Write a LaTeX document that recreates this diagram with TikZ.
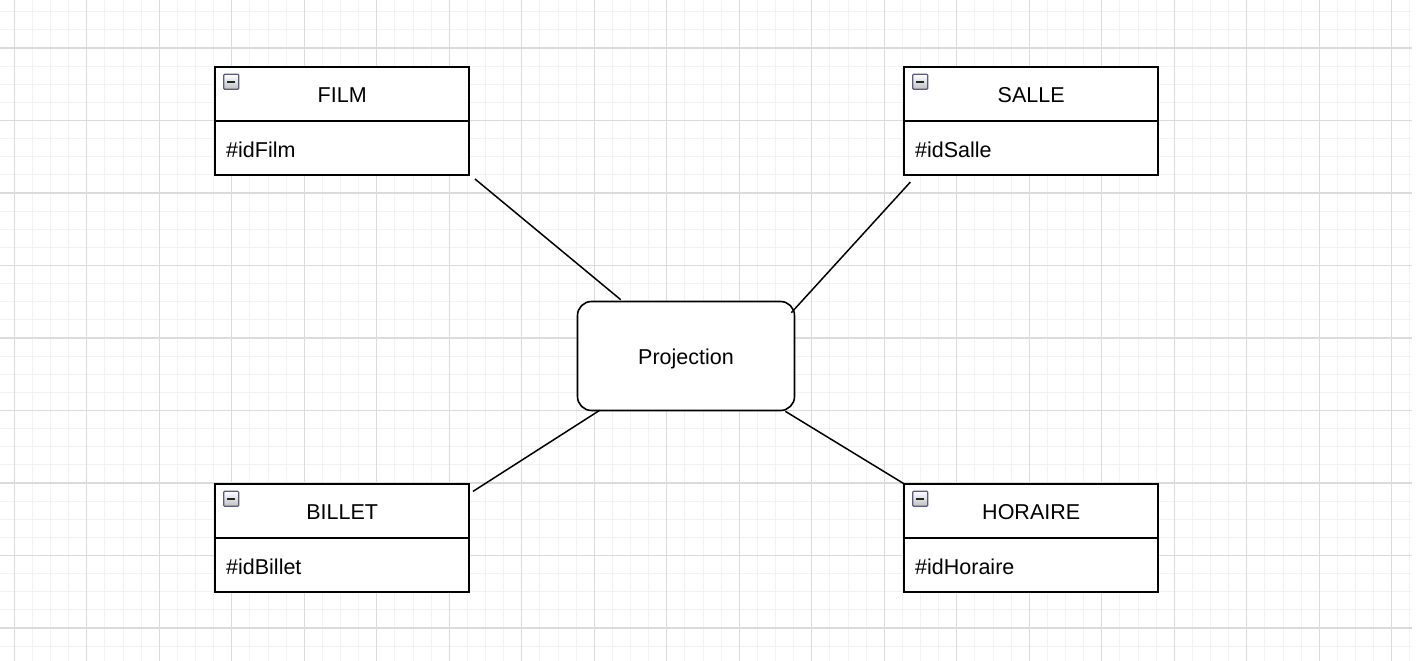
\documentclass[tikz,border=0pt]{standalone}
\usepackage{fontspec}
\setmainfont{Liberation Sans}
\begin{document}
\begin{tikzpicture}[x=1pt,y=-1pt,
  minorgrid/.style={draw=black!5, line width=1pt},
  majorgrid/.style={draw=black!14, line width=1.2pt},
  txt/.style={font=\fontsize{21.5}{24}\selectfont},
  hdr/.style={txt, draw, line width=1.6pt, fill=white, minimum width=254pt, minimum height=54pt, inner sep=0pt, text height=17pt, text depth=0pt, anchor=north west},
  bdy/.style={txt, draw, line width=1.6pt, fill=white, minimum height=54pt, text width=232pt, inner xsep=11pt, inner ysep=0pt, text height=19pt, text depth=0pt, align=left, anchor=north west},
  icon/.style={draw=black!45!blue!30!gray, line width=1.2pt, rounded corners=1pt, top color=white, bottom color=black!25, minimum size=15pt, inner sep=0pt,
    path picture={\draw[line width=1.8pt, black!85] ([xshift=3.5pt]path picture bounding box.west) -- ([xshift=-3.5pt]path picture bounding box.east);}},
  proc/.style={txt, draw, line width=1.6pt, fill=white, rounded corners=14pt, minimum width=217pt, minimum height=109pt, inner sep=0pt, text height=17pt, text depth=0pt},
  conn/.style={line width=1.5pt}
]
\useasboundingbox (0,0) rectangle (1416,661);
\fill[white] (0,0) rectangle (1416,661);
\begin{scope}
\clip (0,0) rectangle (1412,661);
\foreach \k in {0,...,77} \draw[minorgrid] ({14.3+18.125*\k},0) -- ({14.3+18.125*\k},661);
\foreach \k in {0,...,36} \draw[minorgrid] (0,{11.75+18.125*\k}) -- (1412,{11.75+18.125*\k});
\foreach \k in {0,...,19} \draw[majorgrid] ({14.3+72.5*\k},0) -- ({14.3+72.5*\k},661);
\foreach \k in {0,...,8} \draw[majorgrid] (0,{48+72.5*\k}) -- (1412,{48+72.5*\k});
\end{scope}

% FILM
\node[hdr] (filmh) at (214.4,66.4) {FILM};
\node[bdy] (filmb) at (214.4,120.4) {\#idFilm};
\node[icon] (filmi) at (231.2,81.8) {};
% SALLE
\node[hdr] (salleh) at (903.4,66.4) {SALLE};
\node[bdy] (salleb) at (903.4,120.4) {\#idSalle};
\node[icon] (sallei) at (920.2,81.8) {};
% BILLET
\node[hdr] (billeth) at (214.4,483.4) {BILLET};
\node[bdy] (billetb) at (214.4,537.4) {\#idBillet};
\node[icon] (billeti) at (231.2,498.8) {};
% HORAIRE
\node[hdr] (horaireh) at (903.4,483.4) {HORAIRE};
\node[bdy] (horaireb) at (903.4,537.4) {\#idHoraire};
\node[icon] (horairei) at (920.2,498.8) {};
% Projection
\node[proc] (proj) at (686,356) {Projection};

\draw[conn] ([shift={(5,3)}]filmb.south east) -- ([shift={(44,-1)}]proj.north west);
\draw[conn] ([shift={(7,6)}]salleb.south west) -- ([shift={(-4,12)}]proj.north east);
\draw[conn] ([shift={(3,8)}]billeth.north east) -- ([shift={(23,-1)}]proj.south west);
\draw[conn] ([shift={(-10,0)}]proj.south east) -- (horaireh.north west);
\end{tikzpicture}
\end{document}
